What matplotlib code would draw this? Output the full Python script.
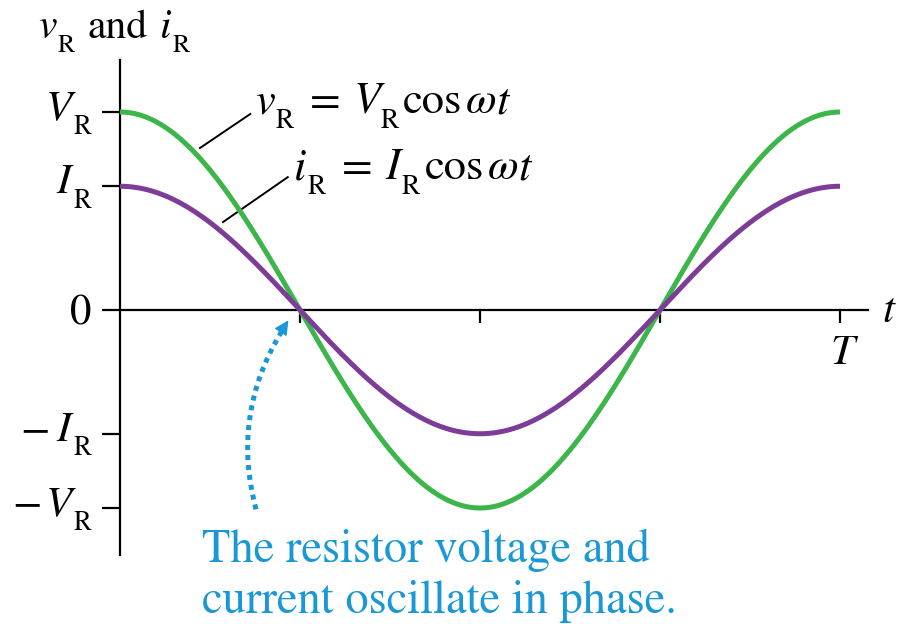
import numpy as np
import matplotlib
matplotlib.use("Agg")
import matplotlib.pyplot as plt
from matplotlib.patches import FancyArrowPatch
from matplotlib.transforms import IdentityTransform

plt.rcParams['font.family'] = ['STIXGeneral', 'DejaVu Serif']
plt.rcParams['mathtext.fontset'] = 'stix'

# data
V_R = 1.0
I_R = 0.625
T = 1.0
t = np.linspace(0, T, 600)
omega = 2 * np.pi / T
v_R = V_R * np.cos(omega * t)
i_R = I_R * np.cos(omega * t)

ytick_vals = [V_R, I_R, 0, -I_R, -V_R]
ytick_pieces = [
    [('V', 'it', 0), ('R', 'sub', 0.02)],
    [('I', 'it', 0), ('R', 'sub', 0.06)],
    [('0', 'rm', 0)],
    [('\u2212', 'rm', 0), ('I', 'it', 0.14), ('R', 'sub', 0.06)],
    [('\u2212', 'rm', 0), ('V', 'it', 0.1), ('R', 'sub', 0.02)],
]
xtick_vals = [0.25 * T, 0.5 * T, 0.75 * T, T]

GREEN = '#3cb54a'
PURPLE = '#7d3c98'
BLUE = '#1a98d5'

W, H = 898, 624
fig = plt.figure(figsize=(W / 100, H / 100), dpi=100)
ax = fig.add_axes([0, 0, 1, 1])
ax.set_xlim(-120 / 720, 778 / 720)
ax.set_ylim(-314 / 198, 310 / 198)
ax.patch.set_alpha(0)

for s in ['top', 'right']:
    ax.spines[s].set_visible(False)
ax.spines['left'].set_position(('data', 0))
ax.spines['bottom'].set_position(('data', 0))
ax.spines['left'].set_bounds(-1.237, 1.263)
ax.spines['bottom'].set_bounds(0, 1.039)
ax.spines['left'].set_linewidth(1.6)
ax.spines['bottom'].set_linewidth(1.6)

ax.set_yticks(ytick_vals, [''] * len(ytick_vals))
ax.set_xticks(xtick_vals, [''] * len(xtick_vals))
ax.tick_params(axis='y', direction='out', length=13, width=1.6)
ax.tick_params(axis='x', direction='out', length=9, width=1.6)

ax.plot(t, v_R, color=GREEN, lw=3.6, solid_capstyle='butt', zorder=3)
ax.plot(t, i_R, color=PURPLE, lw=3.6, solid_capstyle='butt', zorder=3)

renderer = fig.canvas.get_renderer()
SUB_SCALE = 0.62
SUB_DROP = 0.34


def rich(x, y, pieces, size, color='black', ha='left'):
    """x, y: image pixels (y down) of the baseline start/end."""
    em = size * 100 / 72
    items = []
    for s, kind, gap in pieces:
        fs = size * SUB_SCALE if kind == 'sub' else size
        style = 'italic' if kind == 'it' else 'normal'
        txt = fig.text(0, 0, s, fontsize=fs, fontstyle=style, color=color,
                       va='baseline', ha='left', transform=IdentityTransform())
        w = txt.get_window_extent(renderer).width
        items.append((txt, kind, gap * em, w))
    total = sum(g + w for _, _, g, w in items)
    cur = x if ha == 'left' else (x - total if ha == 'right' else x - total / 2)
    for txt, kind, g, w in items:
        cur += g
        yy = H - y - (SUB_DROP * em if kind == 'sub' else 0)
        txt.set_position((cur, yy))
        cur += w


# y tick labels
for val, pcs in zip(ytick_vals, ytick_pieces):
    ty = H - ax.transData.transform((0, val))[1]
    off = 15 if val == 0 else 7
    rich(91, ty + off, pcs, 31, ha='right')

# x axis labels
tx = ax.transData.transform((T, 0))[0]
rich(tx + 2, 364, [('T', 'it', 0)], 31, ha='center')
rich(882, 322, [('t', 'it', 0)], 31)

# title
rich(38, 38, [('v', 'it', 0), ('R', 'sub', 0.02), ('and', 'rm', 0.3),
              ('i', 'it', 0.3), ('R', 'sub', 0.04)], 30)

# equation labels with leader lines
rich(255, 113, [('v', 'it', 0), ('R', 'sub', 0.02), ('=', 'rm', 0.35),
                ('V', 'it', 0.3), ('R', 'sub', 0), ('cos', 'rm', 0.1),
                ('\u03c9', 'it', 0.08), ('t', 'it', 0.0)], 32)
rich(294, 179, [('i', 'it', 0), ('R', 'sub', 0.03), ('=', 'rm', 0.35),
                ('I', 'it', 0.3), ('R', 'sub', 0.04), ('cos', 'rm', 0.1),
                ('\u03c9', 'it', 0.08), ('t', 'it', 0.0)], 32)
ax.plot([0.111, 0.181], [0.818, 0.99], color='black', lw=1.4)
ax.plot([0.143, 0.233], [0.444, 0.671], color='black', lw=1.4)

# blue annotation
rich(202, 562, [('The resistor voltage and', 'rm', 0)], 33.5, color=BLUE)
rich(202, 613, [('current oscillate in phase.', 'rm', 0)], 33.5, color=BLUE)

body = FancyArrowPatch((0.19, -1.02), (0.226, -0.1), connectionstyle='arc3,rad=-0.22',
                       arrowstyle='-', color=BLUE, lw=3.6, linestyle=(0, (1.0, 1.0)),
                       capstyle='butt')
ax.add_patch(body)
head = FancyArrowPatch((0.22, -0.13), (0.236, -0.04), arrowstyle='-|>', color=BLUE,
                       lw=1, mutation_scale=22)
ax.add_patch(head)

fig.savefig('out.png', dpi=100)
